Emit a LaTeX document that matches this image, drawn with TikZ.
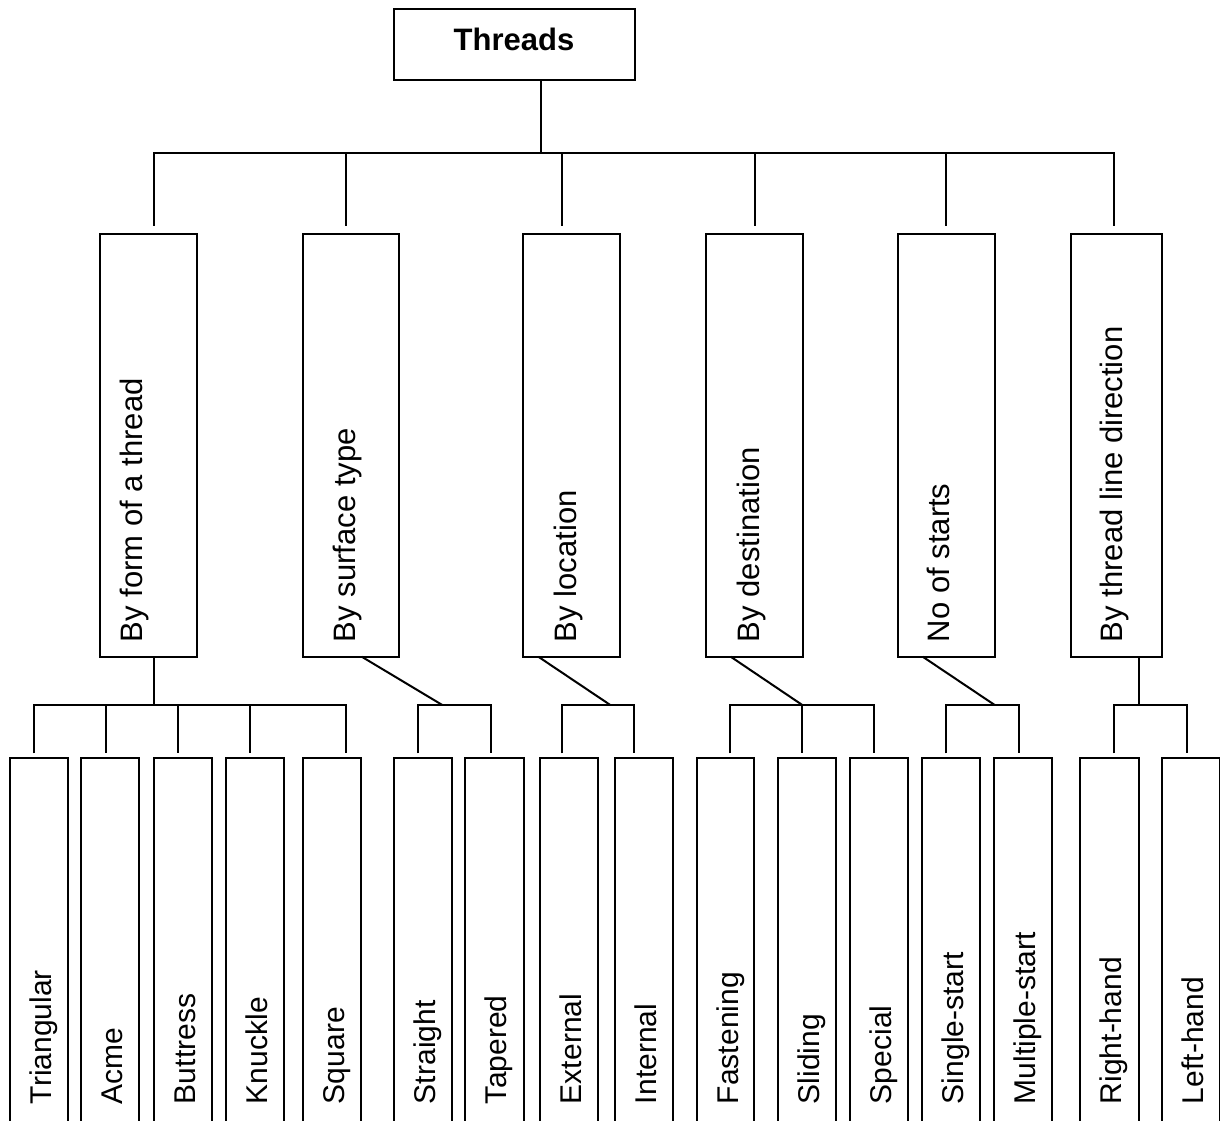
\documentclass[tikz,border=0pt]{standalone}
\usepackage{fontspec}
\setmainfont{Liberation Sans}
\begin{document}
\begin{tikzpicture}[x=1pt,y=-1pt,
  box/.style={draw, line width=2pt, inner sep=0pt, outer sep=0pt, anchor=north west},
  lab/.style={inner sep=0pt, outer sep=0pt, rotate=90, anchor=base west, font=\fontsize{30}{36}\selectfont},
  midlab/.style={lab, font=\fontsize{31}{37}\selectfont},
  conn/.style={line width=2pt, line join=miter}]
\path[use as bounding box] (0,0) rectangle (1220,1121);
\clip (0,0) rectangle (1220,1121);

% root
\node[box, minimum width=241pt, minimum height=71pt] (threads) at (394,9) {};
\node[inner sep=0pt, anchor=base, font=\bfseries\fontsize{31}{37}\selectfont] (threads-t) at (514,50.7) {Threads};

% second level boxes
\foreach \n/\l/\w in {b1/100/96.7, b2/302.7/96.6, b3/523.3/96.2, b4/706/96.7, b5/898.2/96.5, b6/1071/91.3}
  \node[box, minimum width=\w pt, minimum height=422.4pt] (\n) at (\l,234.3) {};

\node[midlab] (b1-t) at (142,642) {By form of a thread};
\node[midlab] (b2-t) at (355,642) {By surface type};
\node[midlab] (b3-t) at (576,642) {By location};
\node[midlab] (b4-t) at (759,642) {By destination};
\node[midlab] (b5-t) at (949,642) {No of starts};
\node[midlab] (b6-t) at (1122,642) {By thread line direction};

% bottom boxes
\foreach \n/\l/\r/\t in {c1/10/67.7/Triangular, c2/81/138.7/Acme, c3/154/212/Buttress,
  c4/226/284/Knuckle, c5/303/361/Square, c6/394.3/451.7/Straight, c7/465.3/523.7/Tapered,
  c8/540/598.3/External, c9/615/673.3/Internal, c10/696.7/754.3/Fastening,
  c11/778/835.7/Sliding, c12/850/907.7/Special, c13/922.3/980/Single-start,
  c14/994.3/1052.3/Multiple-start, c15/1080.3/1138.7/Right-hand, c16/1162.3/1220/Left-hand}
{
  \pgfmathsetmacro\boxw{\r-\l}
  \node[box, minimum width=\boxw pt, minimum height=390pt] (\n) at (\l,758.3) {};
  \node[lab] (\n-t) at (\l+41.5,1104) {\t};
}

% level 1 connectors
\coordinate (j0) at (540.7,153);
\coordinate (jL) at (154,153);
\coordinate (jR) at (1114,153);
\coordinate (d2) at (346,153);
\coordinate (d3) at (562,153);
\coordinate (d4) at (754.7,153);
\coordinate (d5) at (946,153);
\draw[conn] (threads.south -| j0) -- (j0);
\draw[conn] ([yshift=8.6pt]b1.north -| jL) -- (jL) -- (jR) -- ([yshift=8.6pt]b6.north -| jR);
\foreach \i in {2,...,5}
  \draw[conn] (d\i) -- ([yshift=8.6pt]b\i.north -| d\i);

% group 1
\coordinate (e1) at (154,705);
\coordinate (s1a) at (34.3,705);
\coordinate (s1b) at (106.3,705);
\coordinate (s1c) at (178.3,705);
\coordinate (s1d) at (250.3,705);
\coordinate (s1e) at (346,705);
\draw[conn] (b1.south -| e1) -- (e1);
\draw[conn] ([yshift=5pt]c1.north -| s1a) -- (s1a) -- (s1e) -- ([yshift=5pt]c5.north -| s1e);
\draw[conn] (s1b) -- ([yshift=5pt]c2.north -| s1b);
\draw[conn] (s1c) -- ([yshift=5pt]c3.north -| s1c);
\draw[conn] (s1d) -- ([yshift=5pt]c4.north -| s1d);

% group 2
\coordinate (e2) at (442.3,705);
\coordinate (s2a) at (418,705);
\coordinate (s2b) at (490.7,705);
\draw[conn] ([xshift=59pt]b2.south west) -- (e2);
\draw[conn] ([yshift=5pt]c6.north -| s2a) -- (s2a) -- (s2b) -- ([yshift=5pt]c7.north -| s2b);

% group 3
\coordinate (e3) at (610.3,705);
\coordinate (s3a) at (562.3,705);
\coordinate (s3b) at (634.3,705);
\draw[conn] ([xshift=15pt]b3.south west) -- (e3);
\draw[conn] ([yshift=5pt]c8.north -| s3a) -- (s3a) -- (s3b) -- ([yshift=5pt]c9.north -| s3b);

% group 4
\coordinate (e4) at (802.3,705);
\coordinate (s4a) at (730.3,705);
\coordinate (s4c) at (874,705);
\draw[conn] ([xshift=24.7pt]b4.south west) -- (e4);
\draw[conn] ([yshift=5pt]c10.north -| s4a) -- (s4a) -- (s4c) -- ([yshift=5pt]c12.north -| s4c);
\draw[conn] (e4) -- ([yshift=5pt]c11.north -| e4);

% group 5
\coordinate (e5) at (994.7,705);
\coordinate (s5a) at (946,705);
\coordinate (s5b) at (1018.7,705);
\draw[conn] ([xshift=24.5pt]b5.south west) -- (e5);
\draw[conn] ([yshift=5pt]c13.north -| s5a) -- (s5a) -- (s5b) -- ([yshift=5pt]c14.north -| s5b);

% group 6
\coordinate (e6) at (1138.7,705);
\coordinate (s6a) at (1114.3,705);
\coordinate (s6b) at (1186.7,705);
\draw[conn] (b6.south -| e6) -- (e6);
\draw[conn] ([yshift=5pt]c15.north -| s6a) -- (s6a) -- (s6b) -- ([yshift=5pt]c16.north -| s6b);
\end{tikzpicture}
\end{document}
